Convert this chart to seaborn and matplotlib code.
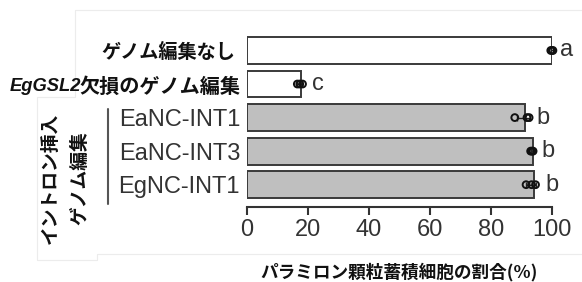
import matplotlib
matplotlib.use("Agg")
import matplotlib.pyplot as plt
import matplotlib.transforms as mtransforms
import seaborn as sns
import numpy as np
import pandas as pd
from matplotlib.lines import Line2D

# ---- data ----
categories = ["ゲノム編集なし", "EgGSL2欠損のゲノム編集", "EaNC-INT1", "EaNC-INT3", "EgNC-INT1"]
bar_values = [100.0, 17.6, 91.1, 93.9, 94.1]
points_0 = [99.6, 100.0, 100.3]
points_1 = [16.5, 17.3, 18.2]
points_2 = [87.8, 91.8, 92.5]
points_3 = [93.0, 93.4, 93.8]
points_4 = [91.5, 93.3, 94.6]
err = [0.3, 0.8, 2.2, 0.4, 1.6]
letters = ["a", "c", "b", "b", "b"]
letter_x = [102.6, 21.3, 94.9, 96.7, 97.9]
bar_colors = ["#ffffff", "#ffffff", "#bfbfbf", "#bfbfbf", "#bfbfbf"]
xticks = [0, 20, 40, 60, 80, 100]
xlabel = "パラミロン顆粒蓄積細胞の割合(%)"
group_line1 = "イントロン挿入"
group_line2 = "ゲノム編集"
italic_part = "EgGSL2"
jp_part = "欠損のゲノム編集"

sns.set_theme(style="white")
plt.rcParams["font.family"] = ["Liberation Sans", "Noto Sans CJK JP", "DejaVu Sans"]

W, H = 582, 282
fig = plt.figure(figsize=(W / 100, H / 100), dpi=100)

def fx(px):
    return px / W

def fy(py):
    return 1 - py / H

top_px, bot_px = 33.7, 207.0
ax = fig.add_axes([fx(247), fy(bot_px), (552 - 247) / W, (bot_px - top_px) / H])

df = pd.DataFrame({"cat": categories, "val": bar_values})
sns.barplot(data=df, x="val", y="cat", hue="cat", palette=bar_colors, legend=False,
            edgecolor="#3a3a3a", linewidth=1.4, width=0.8, ax=ax, saturation=1)

all_pts = [points_0, points_1, points_2, points_3, points_4]
for i, pts in enumerate(all_pts):
    m = float(np.mean(pts))
    ax.errorbar([m], [i], xerr=[err[i]], fmt="none", ecolor="#222222", elinewidth=1.0,
                capsize=2.5, capthick=1.0, clip_on=False, zorder=4)
    ax.scatter(pts, [i] * len(pts), s=24, facecolors="none", edgecolors="#111111",
               linewidths=1.4, clip_on=False, zorder=5)
    ax.text(letter_x[i], i, letters[i], ha="left", va="center", fontsize=17,
            color="#333333", family="Liberation Sans")

ax.set_xlim(0, 100)
ax.set_ylim(4.665, -0.5)
ax.set_xticks(xticks)
ax.set_xticklabels([str(t) for t in xticks])
ax.set_xlabel("")
ax.set_ylabel("")
for s in ["top", "right", "left"]:
    ax.spines[s].set_visible(False)
ax.spines["bottom"].set_color("#333333")
ax.spines["bottom"].set_linewidth(1.5)
ax.tick_params(axis="x", direction="out", length=6, width=1.5, color="#333333",
               labelsize=17, labelcolor="#333333", pad=3, bottom=True)
ax.tick_params(axis="y", length=0, pad=5)

ylabels = [categories[0], jp_part, categories[2], categories[3], categories[4]]
ax.set_yticks(range(5))
ax.set_yticklabels(ylabels)
for i, lab in enumerate(ax.get_yticklabels()):
    if i < 2:
        lab.set_family(["Noto Sans CJK JP"])
        lab.set_fontweight("bold")
        lab.set_fontsize(13.8 if i == 0 else 14.5)
        lab.set_color("#111111")
    else:
        lab.set_family(["Liberation Sans"])
        lab.set_fontsize(17)
        lab.set_color("#333333")
for lab in ax.get_xticklabels():
    lab.set_family(["Liberation Sans"])

# shift first label slightly left as in the reference
lab0 = ax.get_yticklabels()[0]
lab0.set_transform(lab0.get_transform() + mtransforms.ScaledTranslation(-5 / 100, 0, fig.dpi_scale_trans))

# compose italic part of row 2 label
fig.canvas.draw()
r = fig.canvas.get_renderer()
lab1 = ax.get_yticklabels()[1]
bb = lab1.get_window_extent(renderer=r)
x0_fig = (bb.x0 + 2) / W
yc_fig = (bb.y0 + bb.y1) / 2 / H
fig.text(x0_fig, yc_fig, italic_part, ha="right", va="center", fontsize=13.2,
         fontweight="bold", fontstyle="italic", family="Liberation Sans", color="#111111")

# x label
fig.text(fx(399), fy(272), xlabel, ha="center", va="center", fontsize=12.7,
         fontweight="bold", family=["Noto Sans CJK JP"], color="#111111")

# group label
fig.text(fx(50), fy(178), group_line1, rotation=90, ha="center", va="center", fontsize=13.5,
         fontweight="bold", family=["Noto Sans CJK JP"], color="#111111")
fig.text(fx(80), fy(178), group_line2, rotation=90, ha="center", va="center", fontsize=13.5,
         fontweight="bold", family=["Noto Sans CJK JP"], color="#111111")
fig.add_artist(Line2D([fx(108), fx(108)], [fy(109), fy(204)], color="#555555", linewidth=1.5))

# faint panel borders
fc = "#ececec"
for xs, ys in [([75, 582], [10, 10]), ([75, 75], [10, 97]), ([37, 75], [97, 97]),
               ([37, 37], [97, 260]), ([37, 97], [260, 260]), ([97, 97], [254, 260]),
               ([97, 582], [254, 254])]:
    fig.add_artist(Line2D([fx(x) for x in xs], [fy(y) for y in ys], color=fc, linewidth=0.8))

fig.savefig("out.png", dpi=100)
